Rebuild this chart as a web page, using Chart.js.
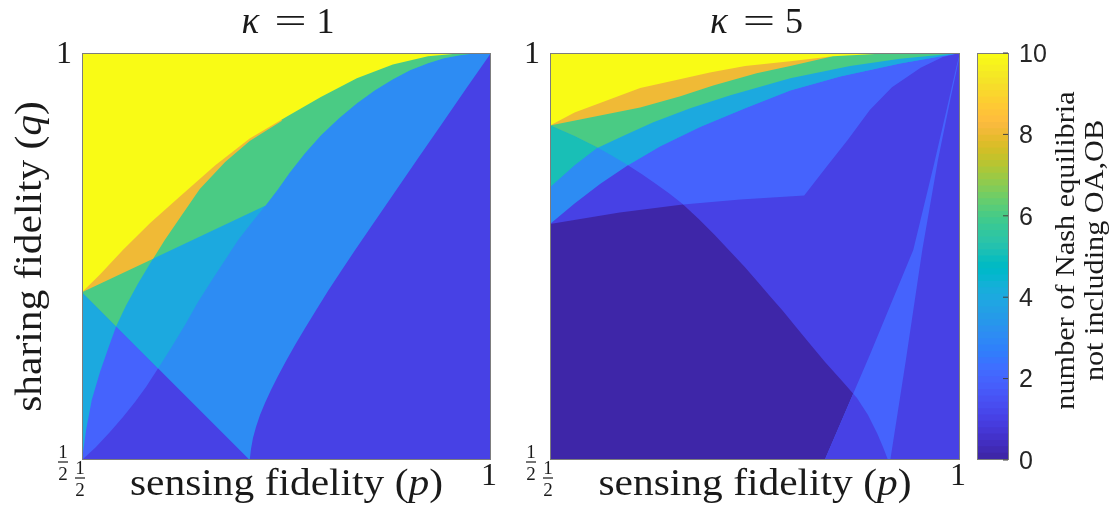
<!DOCTYPE html>
<html><head><meta charset="utf-8">
<script src="https://cdn.jsdelivr.net/npm/chart.js@4.4.1/dist/chart.umd.min.js"></script>
<style>
html,body{margin:0;padding:0;background:#fff;}
#wrap{position:relative;width:1114px;height:515px;overflow:hidden;background:#fff;}
#wrap canvas{position:absolute;left:0;top:0;}
</style></head><body>
<div id="wrap">
<canvas id="cL" width="1114" height="515"></canvas>
<canvas id="cR" width="1114" height="515"></canvas>
<canvas id="cB" width="1114" height="515"></canvas>
</div>
<script>
// ================= DATA (p = sensing fidelity, q = sharing fidelity) =================
const axisRange = [0.5, 1];
const axisTicks = [0.5, 1];
const colorbarRange = [0, 10];
const colorbarTicks = [0, 2, 4, 6, 8, 10];
const panelTitles = ['1', '5'];           // kappa values
const colorbarLabel = ['number of Nash equilibria', 'not including OA,OB'];

// ---- kappa = 1 : region boundaries [p, q] ----
const k1_L1 = [0.5, 0.706];
const k1_lineA = [[0.5, 0.706], [0.705, 0.5]];
const k1_lineD = [[0.5, 0.706], [0.7665, 0.8328]];
const k1_curveCa = [[0.5,0.5],[0.5171,0.516],[0.5342,0.5344],[0.5501,0.5528],[0.5648,0.5712],[0.5782,0.5896],[0.5917,0.6105],[0.6088,0.6375],[0.6259,0.6657],[0.6418,0.694],[0.6589,0.721],[0.6907,0.770],[0.7078,0.7922],[0.7237,0.8118],[0.7396,0.8327],[0.7543,0.8536],[0.7726,0.8769],[0.7922,0.899],[0.8142,0.9198],[0.8362,0.9383],[0.8582,0.9542],[0.8802,0.9677],[0.901,0.9788],[0.923,0.9874],[0.9426,0.9935],[0.9621,0.9972],[0.9817,0.9996],[1,1]];
const k1_curveG = [[0.705,0.5],[0.7066,0.5135],[0.709,0.527],[0.7127,0.5405],[0.7176,0.5552],[0.7237,0.570],[0.731,0.586],[0.7396,0.6031],[0.7494,0.6215],[0.7604,0.6412],[0.7726,0.662],[0.7861,0.6841],[0.8007,0.7075],[0.8166,0.732],[0.8337,0.7578],[0.8521,0.7848],[0.8802,0.8259],[0.9108,0.8707],[0.9413,0.9149],[0.9707,0.9579],[1,1]];
const k1_curveE = [[0.5,0.5],[0.505,0.537],[0.512,0.574],[0.522,0.608],[0.532,0.637],[0.542,0.665],[0.554,0.690],[0.568,0.716],[0.583,0.741],[0.601,0.770],[0.620,0.798],[0.644,0.833],[0.675,0.866],[0.705,0.892],[0.745,0.917]];
const k1_curveY = [[0.5,0.706],[0.522,0.728],[0.550,0.758],[0.583,0.791],[0.619,0.823],[0.663,0.862],[0.705,0.895],[0.749,0.921],[0.792,0.946],[0.836,0.969],[0.880,0.986],[0.923,0.996],[0.967,1.0],[1,1]];
// counts: base, inside V, left Ca below A, left Ca above A, left E below A, left E above A, above D left Ca, above D left E, above Y
const k1_counts = [1, 3, 2, 4, 4, 6, 6, 8, 10];

// ---- kappa = 5 : region boundaries [p, q] ----
const k5_curveY = [[0.5,0.911],[0.530,0.927],[0.570,0.942],[0.610,0.957],[0.650,0.966],[0.695,0.976],[0.738,0.984],[0.793,0.990],[0.845,0.996],[0.902,0.999],[0.951,1.0],[1,1]];
const k5_curveD = [[0.5,0.911],[0.555,0.922],[0.610,0.933],[0.659,0.947],[0.699,0.960],[0.752,0.975],[0.793,0.984],[0.845,0.996]];
const k5_curveK1 = [[0.5,0.835],[0.530,0.862],[0.557,0.883],[0.591,0.899],[0.626,0.915],[0.671,0.932],[0.720,0.948],[0.793,0.969],[0.866,0.984],[0.927,0.993],[1,1]];
const k5_curveK2 = [[0.5,0.790],[0.530,0.815],[0.561,0.839],[0.595,0.862],[0.634,0.885],[0.683,0.909],[0.738,0.932],[0.793,0.954],[0.854,0.971],[0.927,0.987],[1,1]];
const k5_curveJ = [[0.5,0.9112],[0.5305,0.8977],[0.5573,0.8842],[0.5768,0.8732],[0.5951,0.8621],[0.6122,0.8511],[0.628,0.8401],[0.6451,0.8278],[0.6622,0.8142],[0.6817,0.7959],[0.7012,0.7762],[0.7195,0.7566],[0.7378,0.7369],[0.7537,0.7185],[0.7683,0.7013],[0.7841,0.6829],[0.8,0.6633],[0.8171,0.6424],[0.8354,0.6203],[0.8573,0.5958],[0.8744,0.5761],[0.8878,0.5552],[0.8988,0.5331],[0.9061,0.516],[0.9122,0.5]];
const k5_curveH = [[0.5,0.790],[0.537,0.796],[0.585,0.804],[0.662,0.814],[0.732,0.820],[0.810,0.825],[0.837,0.860],[0.863,0.893],[0.890,0.930],[0.917,0.958],[0.952,0.982],[0.979,0.995],[1,1]];
const k5_wedgeLeft = [[0.835,0.5],[0.890,0.629],[0.943,0.758],[0.968,0.862],[0.985,0.936],[0.996,0.985],[1,1]];
const k5_wedgeRight = [[0.915,0.5],[0.934,0.623],[0.954,0.758],[0.973,0.868],[0.988,0.942],[0.998,0.989],[1,1]];
// counts: base, below H & left J, above H & right J, above K2, above K2 & right J, above K1 & left J, above K1 & right J, above D, above Y, wedge, wedge & left J
const k5_counts = [1, 0, 2, 3, 4, 5, 6, 8, 10, 2, 1];

// ================= colormap (MATLAB parula, 64 entries) =================
const PARULA = [[0.2422,0.1504,0.6603],[0.2504,0.1650,0.7076],[0.2578,0.1818,0.7511],[0.2647,0.1978,0.7952],[0.2706,0.2147,0.8364],[0.2751,0.2342,0.8710],[0.2783,0.2559,0.8991],[0.2803,0.2782,0.9221],[0.2813,0.3006,0.9414],[0.2810,0.3228,0.9579],[0.2795,0.3447,0.9717],[0.2760,0.3667,0.9829],[0.2699,0.3892,0.9906],[0.2602,0.4123,0.9952],[0.2440,0.4358,0.9988],[0.2206,0.4603,0.9973],[0.1963,0.4847,0.9892],[0.1834,0.5074,0.9798],[0.1786,0.5289,0.9682],[0.1764,0.5499,0.9520],[0.1687,0.5703,0.9359],[0.1540,0.5902,0.9218],[0.1460,0.6091,0.9079],[0.1380,0.6276,0.8973],[0.1248,0.6459,0.8883],[0.1113,0.6635,0.8763],[0.0952,0.6798,0.8598],[0.0689,0.6948,0.8394],[0.0297,0.7082,0.8163],[0.0036,0.7203,0.7917],[0.0067,0.7312,0.7660],[0.0433,0.7411,0.7394],[0.0964,0.7500,0.7120],[0.1408,0.7584,0.6842],[0.1717,0.7670,0.6554],[0.1938,0.7758,0.6251],[0.2161,0.7843,0.5923],[0.2470,0.7918,0.5567],[0.2906,0.7973,0.5188],[0.3406,0.8008,0.4789],[0.3909,0.8029,0.4354],[0.4456,0.8024,0.3909],[0.5044,0.7993,0.3480],[0.5616,0.7942,0.3045],[0.6174,0.7876,0.2612],[0.6720,0.7793,0.2227],[0.7242,0.7698,0.1910],[0.7738,0.7598,0.1646],[0.8203,0.7498,0.1535],[0.8634,0.7406,0.1596],[0.9035,0.7330,0.1774],[0.9393,0.7288,0.2100],[0.9728,0.7298,0.2394],[0.9956,0.7434,0.2371],[0.9970,0.7659,0.2199],[0.9952,0.7893,0.2028],[0.9892,0.8136,0.1885],[0.9786,0.8386,0.1766],[0.9676,0.8639,0.1643],[0.9610,0.8890,0.1537],[0.9597,0.9135,0.1423],[0.9628,0.9373,0.1265],[0.9691,0.9606,0.1064],[0.9769,0.9839,0.0805]];
function rgbOf(c){ return 'rgb(' + Math.round(c[0]*255) + ',' + Math.round(c[1]*255) + ',' + Math.round(c[2]*255) + ')'; }
function countColor(v){
  let i = Math.floor((v - colorbarRange[0]) / (colorbarRange[1] - colorbarRange[0]) * PARULA.length);
  i = Math.max(0, Math.min(PARULA.length - 1, i));
  return rgbOf(PARULA[i]);
}

// ================= geometry helpers (polyline intersection / slicing) =================
function segInt(a,b,c,d){
  const rx=b[0]-a[0], ry=b[1]-a[1], sx=d[0]-c[0], sy=d[1]-c[1];
  const den = rx*sy - ry*sx; if (Math.abs(den) < 1e-12) return null;
  const qx=c[0]-a[0], qy=c[1]-a[1];
  const t=(qx*sy-qy*sx)/den, u=(qx*ry-qy*rx)/den;
  if (t>=-1e-9 && t<=1+1e-9 && u>=-1e-9 && u<=1+1e-9) return {t,u};
  return null;
}
function cross(A,B){
  for (let i=0;i<A.length-1;i++) for (let j=0;j<B.length-1;j++){
    const r = segInt(A[i],A[i+1],B[j],B[j+1]);
    if (r) return {sa:i+r.t, sb:j+r.u};
  }
  return null;
}
function at(c,s){ const i=Math.max(0,Math.min(Math.floor(s), c.length-2)); const t=s-i; return [c[i][0]+t*(c[i+1][0]-c[i][0]), c[i][1]+t*(c[i+1][1]-c[i][1])]; }
function slice(c,s0,s1){
  const out=[at(c,s0)];
  if (s1>s0){ for(let k=Math.floor(s0)+1;k<s1;k++) out.push(c[k]); }
  else { for(let k=Math.ceil(s0)-1;k>s1;k--) out.push(c[k]); }
  out.push(at(c,s1)); return out;
}
const END = c => c.length-1;
const TL=[0.5,1], TR=[1,1], BL=[0.5,0.5], BR=[1,0.5];

// ----- kappa = 1 painter-ordered regions -----
function kappa1Regions(){
  const xCaA = cross(k1_curveCa, k1_lineA);
  const xEA  = cross(k1_curveE, k1_lineA);
  const xCaD = cross(k1_curveCa, k1_lineD);
  const xED  = cross(k1_curveE, k1_lineD);
  const B0 = k1_lineA[1];
  return [
    [BL, BR, TR, TL],
    [k1_L1, B0, ...k1_curveG.slice(1), TL],
    [...slice(k1_curveCa, 0, xCaA.sa), k1_L1],
    [k1_L1, ...slice(k1_curveCa, xCaA.sa, END(k1_curveCa)), TL],
    [...slice(k1_curveE, 0, xEA.sa), k1_L1],
    [k1_L1, ...slice(k1_curveE, xEA.sa, END(k1_curveE)), TL],
    [k1_L1, ...slice(k1_curveCa, xCaD.sa, END(k1_curveCa)), TL],
    [k1_L1, ...slice(k1_curveE, xED.sa, END(k1_curveE)), TL],
    [...k1_curveY, TL]
  ];
}
// ----- kappa = 5 painter-ordered regions -----
function kappa5Regions(){
  const xJH  = cross(k5_curveJ, k5_curveH);
  const xJK2 = cross(k5_curveJ, k5_curveK2);
  const xJK1 = cross(k5_curveJ, k5_curveK1);
  const xWJ  = cross(k5_wedgeLeft, k5_curveJ);
  return [
    [BL, BR, TR, TL],
    [...slice(k5_curveH, 0, xJH.sb), ...slice(k5_curveJ, xJH.sa, END(k5_curveJ)), BL],
    [...slice(k5_curveJ, 0, xJH.sa), ...slice(k5_curveH, xJH.sb, END(k5_curveH)), TL],
    [...k5_curveK2, TL],
    [...slice(k5_curveJ, 0, xJK2.sa), ...slice(k5_curveK2, xJK2.sb, END(k5_curveK2)), TL],
    [...slice(k5_curveK1, 0, xJK1.sb), ...slice(k5_curveJ, xJK1.sa, 0)],
    [...slice(k5_curveJ, 0, xJK1.sa), ...slice(k5_curveK1, xJK1.sb, END(k5_curveK1)), TL],
    [...k5_curveD, TL],
    [...k5_curveY, TL],
    [...k5_wedgeLeft, ...k5_wedgeRight.slice(0, -1).reverse()],
    [k5_wedgeLeft[0], ...slice(k5_curveJ, xWJ.sb, END(k5_curveJ))]
  ];
}
function regionDatasets(polys, counts){
  const ds = polys.map((pts, i) => {
    const col = countColor(counts[i]);
    return { data: pts.map(p => ({x:p[0], y:p[1]})), fill:'shape', backgroundColor: col,
             borderColor: col, borderWidth: 0, pointRadius: 0, tension: 0 };
  });
  return ds.reverse(); // Chart.js draws the first dataset on top
}

// ================= text / frame plugin =================
const SERIF = '"Liberation Serif","DejaVu Serif",serif';
const SANS = '"Liberation Sans",Arial,sans-serif';
const HSCALE = 1.12;   // widen Times-like glyphs toward Computer Modern proportions
function richWidth(ctx, parts, size){
  let w=0; for (const p of parts){ ctx.font=(p[1]?'italic ':'')+size+'px '+SERIF; w+=ctx.measureText(p[0]).width; } return w;
}
function drawRich(ctx, parts, x, y, size, hs){
  ctx.save(); ctx.translate(x, y); ctx.scale(hs, 1);
  let cx = -richWidth(ctx, parts, size)/2;
  ctx.textAlign='left';
  for (const p of parts){ ctx.font=(p[1]?'italic ':'')+size+'px '+SERIF; ctx.fillText(p[0], cx, 0); cx += ctx.measureText(p[0]).width; }
  ctx.restore();
}
function drawHalf(ctx, cx, barY, size){
  ctx.font = size+'px '+SERIF; ctx.textAlign='center'; ctx.textBaseline='alphabetic';
  ctx.fillText('1', cx, barY-4); ctx.fillText('2', cx, barY+size-1);
  ctx.fillRect(cx-5, barY-0.6, 10, 1.2);
}
const panelPlugin = {
  id:'panelText',
  afterDraw(chart, args, opts){
    const ctx = chart.ctx, a = chart.chartArea, xs = chart.scales.x, ys = chart.scales.y;
    ctx.save();
    ctx.strokeStyle = '#7d7d7d'; ctx.lineWidth = 1;
    ctx.strokeRect(a.left+0.5, a.top+0.5, a.width-1, a.height-1);
    ctx.fillStyle = '#1a1a1a';
    const cx = (a.left + a.right)/2;
    // title  kappa = value
    ctx.textAlign='center'; ctx.textBaseline='alphabetic';
    ctx.font = 'italic 37px '+SERIF; ctx.fillText('κ', cx-36, a.top-20);
    ctx.save(); ctx.translate(cx+4, a.top-20); ctx.scale(1.6,1); ctx.font='36px '+SERIF; ctx.fillText('=', 0, 0); ctx.restore();
    ctx.font = '36px '+SERIF; ctx.fillText(opts.kappa, cx+39, a.top-20);
    // x label
    drawRich(ctx, [['sensing fidelity (',false],['p',true],[')',false]], cx, a.bottom+35, 37, HSCALE);
    // y label
    if (opts.ylabel){
      ctx.save(); ctx.translate(a.left-41, (a.top+a.bottom)/2); ctx.rotate(-Math.PI/2);
      drawRich(ctx, [['sharing fidelity (',false],['q',true],[')',false]], 0, 0, 37, HSCALE);
      ctx.restore();
    }
    // ticks
    for (const t of axisTicks){
      const px = xs.getPixelForValue(t), py = ys.getPixelForValue(t);
      if (t === 0.5){
        drawHalf(ctx, px-2, a.bottom+18, 19);
        drawHalf(ctx, a.left-19, py+2, 19);
      } else {
        ctx.font='32px '+SERIF; ctx.textBaseline='alphabetic';
        ctx.textAlign='center'; ctx.fillText('1', px-2, a.bottom+25);
        ctx.textAlign='right'; ctx.fillText('1', a.left-10, py+10);
      }
    }
    ctx.restore();
  }
};
const colorbarPlugin = {
  id:'cbText',
  afterDraw(chart){
    const ctx = chart.ctx, a = chart.chartArea, ys = chart.scales.y;
    ctx.save();
    ctx.strokeStyle = '#7d7d7d'; ctx.lineWidth = 1;
    ctx.strokeRect(a.left+0.5, a.top+0.5, a.width-1, a.height-1);
    ctx.strokeStyle = '#404040';
    ctx.fillStyle = '#262626';
    ctx.font = '25px '+SANS; ctx.textAlign='left'; ctx.textBaseline='middle';
    for (const t of colorbarTicks){
      const py = ys.getPixelForValue(t);
      ctx.beginPath(); ctx.moveTo(a.right-1, py); ctx.lineTo(a.right-6, py); ctx.stroke();
      ctx.fillText(String(t), a.right+10, py+2);
    }
    ctx.fillStyle = '#1a1a1a';
    ctx.translate(a.right+65, (a.top+a.bottom)/2 - 6); ctx.rotate(-Math.PI/2);
    ctx.textBaseline='alphabetic';
    drawRich(ctx, [[colorbarLabel[0], false]], 0, 0, 28, 1.08);
    drawRich(ctx, [[colorbarLabel[1], false]], 0, 29, 28, 1.08);
    ctx.restore();
  }
};

function panelChart(id, datasets, pad, kappa, ylabel){
  return new Chart(document.getElementById(id), {
    type:'line',
    data:{ datasets },
    options:{
      responsive:false, animation:false, events:[], devicePixelRatio:1,
      layout:{ padding: pad },
      scales:{
        x:{ type:'linear', min:axisRange[0], max:axisRange[1], display:false },
        y:{ type:'linear', min:axisRange[0], max:axisRange[1], display:false }
      },
      plugins:{ legend:{display:false}, tooltip:{enabled:false}, panelText:{ kappa, ylabel } }
    },
    plugins:[panelPlugin]
  });
}
panelChart('cL', regionDatasets(kappa1Regions(), k1_counts), {left:82, top:53, right:623, bottom:55}, panelTitles[0], true);
panelChart('cR', regionDatasets(kappa5Regions(), k5_counts), {left:550, top:53, right:154, bottom:55}, panelTitles[1], false);

// colorbar: one floating bar per colormap entry
const cbStep = (colorbarRange[1]-colorbarRange[0]) / PARULA.length;
new Chart(document.getElementById('cB'), {
  type:'bar',
  data:{ labels:['cb'], datasets: PARULA.map((c,i)=>({ data:[[colorbarRange[0]+i*cbStep, colorbarRange[0]+(i+1)*cbStep]],
          backgroundColor: rgbOf(c), borderWidth:0, inflateAmount:1, grouped:false, barPercentage:1, categoryPercentage:1 })) },
  options:{
    responsive:false, animation:false, events:[], devicePixelRatio:1,
    layout:{ padding:{left:977, top:53, right:105, bottom:55} },
    scales:{ x:{display:false}, y:{display:false, min:colorbarRange[0], max:colorbarRange[1]} },
    plugins:{ legend:{display:false}, tooltip:{enabled:false} }
  },
  plugins:[colorbarPlugin]
});
</script>
</body></html>
